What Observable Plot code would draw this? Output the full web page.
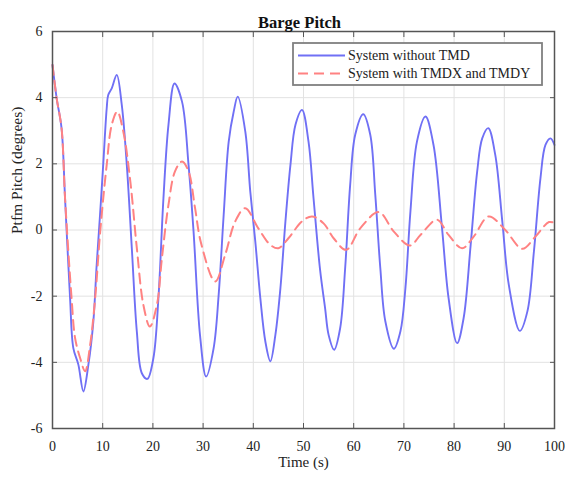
<!DOCTYPE html>
<html>
<head>
<meta charset="utf-8">
<script src="https://cdn.jsdelivr.net/npm/d3@7"></script>
<script src="https://cdn.jsdelivr.net/npm/@observablehq/plot@0.6"></script>
<style>
  body { margin: 0; background: #fff; }
  #chart svg { font-family: "Liberation Serif", "Times New Roman", serif; overflow: visible; }
</style>
</head>
<body>
<div id="chart"></div>
<script>
const title = "Barge Pitch";
const xLabel = "Time (s)";
const yLabel = "Ptfm Pitch (degrees)";
const seriesNames = ["System without TMD", "System with TMDX and TMDY"];
const xTicks = [0, 10, 20, 30, 40, 50, 60, 70, 80, 90, 100];
const yTicks = [-6, -4, -2, 0, 2, 4, 6];

const blueT = [0,0.83,1.8,2.5,3.5,4.15,5.15,6.15,7.15,8.14,8.8,9.47,10.1,10.8,11.1,11.8,12.8,13.8,14.8,15.8,16.8,17.8,18.9,20.1,21.1,22.1,23.1,24.3,25.8,27.1,28.1,29.4,30.6,32.1,33.1,34.1,35.1,36.1,36.9,38.4,39.4,40.4,41.4,42.4,43.4,44.4,45.4,46.4,47.4,48.4,49.7,51.0,52.0,53.3,54.3,55.0,56.1,57.3,58.3,59.3,60.3,61.9,63.3,64.3,65.3,66.3,68.0,69.3,70.3,71.3,72.6,74.3,75.9,77.6,78.9,80.6,81.9,83.3,84.6,85.6,86.8,88.2,89.6,90.9,93.1,94.6,95.9,97.2,98.2,99.2,100];
const blueY = [4.99,3.98,3.08,0.96,-2.06,-3.57,-4.07,-4.88,-4.07,-2.76,-1.05,0.46,1.97,3.68,4.08,4.28,4.69,3.78,1.97,-0.55,-3.07,-4.33,-4.5,-3.87,-2.06,0.96,3.18,4.43,3.88,1.97,-0.05,-3.2,-4.43,-3.57,-1.96,0.46,2.67,3.58,4.03,2.98,1.16,-0.35,-2.06,-3.37,-3.97,-3.17,-1.76,0.26,1.97,3.18,3.63,2.67,0.96,-1.2,-2.36,-3.17,-3.62,-2.97,-1.15,1.37,2.88,3.5,2.88,1.06,-1.15,-2.76,-3.59,-3.07,-1.76,0.56,2.67,3.43,2.57,0.05,-2.06,-3.42,-2.66,-0.45,1.77,2.77,3.08,2.27,0.26,-1.66,-3.05,-2.46,-0.65,1.56,2.57,2.77,2.57];

const redT = [0,0.83,1.8,2.5,3.8,4.5,5.5,6.5,7.5,8.5,9.5,10.8,11.8,12.9,14.1,15.5,16.8,18.1,19.4,20.8,21.8,23.1,24.4,25.8,27.1,28.4,29.6,32.4,34.4,36.4,38.4,41.0,43.4,45.0,47.0,49.7,51.7,54.0,56.0,58.5,61.3,65.0,68.0,71.2,73.3,76.6,78.9,81.6,83.9,86.9,90.2,93.6,96.2,98.9,100];
const redY = [4.99,3.98,3.08,0.96,-2.06,-3.27,-3.87,-4.27,-3.47,-2.06,-0.05,1.97,3.18,3.58,2.98,1.47,-0.55,-2.26,-2.92,-2.26,-0.85,0.76,1.77,2.07,1.77,0.66,-0.4,-1.56,-0.75,0.26,0.66,0.05,-0.45,-0.55,-0.25,0.26,0.41,0.2,-0.25,-0.6,0.05,0.54,-0.05,-0.47,-0.15,0.31,-0.15,-0.55,-0.2,0.41,0.0,-0.57,-0.2,0.24,0.21];

const colors = ["#7070f5", "#ff8282"];

const blue = blueT.map((t, i) => ({t, y: blueY[i]}));
const red = redT.map((t, i) => ({t, y: redY[i]}));

const fmt = d => String(d);

const chart = Plot.plot({
  width: 565,
  height: 477,
  marginLeft: 52,
  marginRight: 11,
  marginTop: 31,
  marginBottom: 49,
  style: {fontFamily: "Liberation Serif, serif", fontSize: "14px", color: "#222", background: "#fff", overflow: "visible"},
  x: {domain: [0, 100], ticks: xTicks, label: null},
  y: {domain: [-6, 6], ticks: yTicks, label: null},
  marks: [
    Plot.gridX(xTicks, {stroke: "#e2e2e2", strokeOpacity: 1}),
    Plot.gridY(yTicks, {stroke: "#e2e2e2", strokeOpacity: 1}),
    Plot.line(blue, {x: "t", y: "y", stroke: colors[0], strokeWidth: 1.9, curve: "catmull-rom"}),
    Plot.line(red, {x: "t", y: "y", stroke: colors[1], strokeWidth: 2, strokeDasharray: "10,6", curve: "catmull-rom"}),
    Plot.frame({stroke: "#555", strokeWidth: 1.5}),
    Plot.axisX(xTicks, {anchor: "bottom", tickSize: -5, tickPadding: 18, tickFormat: fmt, stroke: "#555", label: null, fontSize: 14}),
    Plot.axisX(xTicks, {anchor: "top", tickSize: -5, tickFormat: () => "", stroke: "#555", label: null}),
    Plot.axisY(yTicks, {anchor: "left", tickSize: -5, tickPadding: 15, tickFormat: fmt, stroke: "#555", label: null, fontSize: 14}),
    Plot.axisY(yTicks, {anchor: "right", tickSize: -5, tickFormat: () => "", stroke: "#555", label: null}),
    Plot.text([title], {frameAnchor: "top", dy: -15, dx: -4, fontWeight: "bold", fontSize: 16.5, fill: "#111"}),
    Plot.text([xLabel], {frameAnchor: "bottom", dy: 38, fontSize: 15, fill: "#222"}),
    Plot.text([yLabel], {frameAnchor: "left", dx: -35, dy: 4, rotate: -90, fontSize: 15.5, fill: "#222"})
  ]
});

document.getElementById("chart").appendChild(chart);

// legend
const svg = d3.select(chart);
const lg = svg.append("g").attr("transform", "translate(293,43)");
lg.append("rect").attr("width", 249).attr("height", 42).attr("fill", "#fff").attr("stroke", "#808080").attr("stroke-width", 1.8);
seriesNames.forEach((name, i) => {
  const yy = 12.5 + i * 18;
  lg.append("line").attr("x1", 5).attr("x2", 52).attr("y1", yy).attr("y2", yy)
    .attr("stroke", colors[i]).attr("stroke-width", 2)
    .attr("stroke-dasharray", i === 1 ? "10,6" : null);
  lg.append("text").attr("x", 55).attr("y", yy).attr("dy", "0.35em")
    .attr("text-anchor", "start")
    .attr("font-size", 14).attr("fill", "#222").text(name);
});
</script>
</body>
</html>
